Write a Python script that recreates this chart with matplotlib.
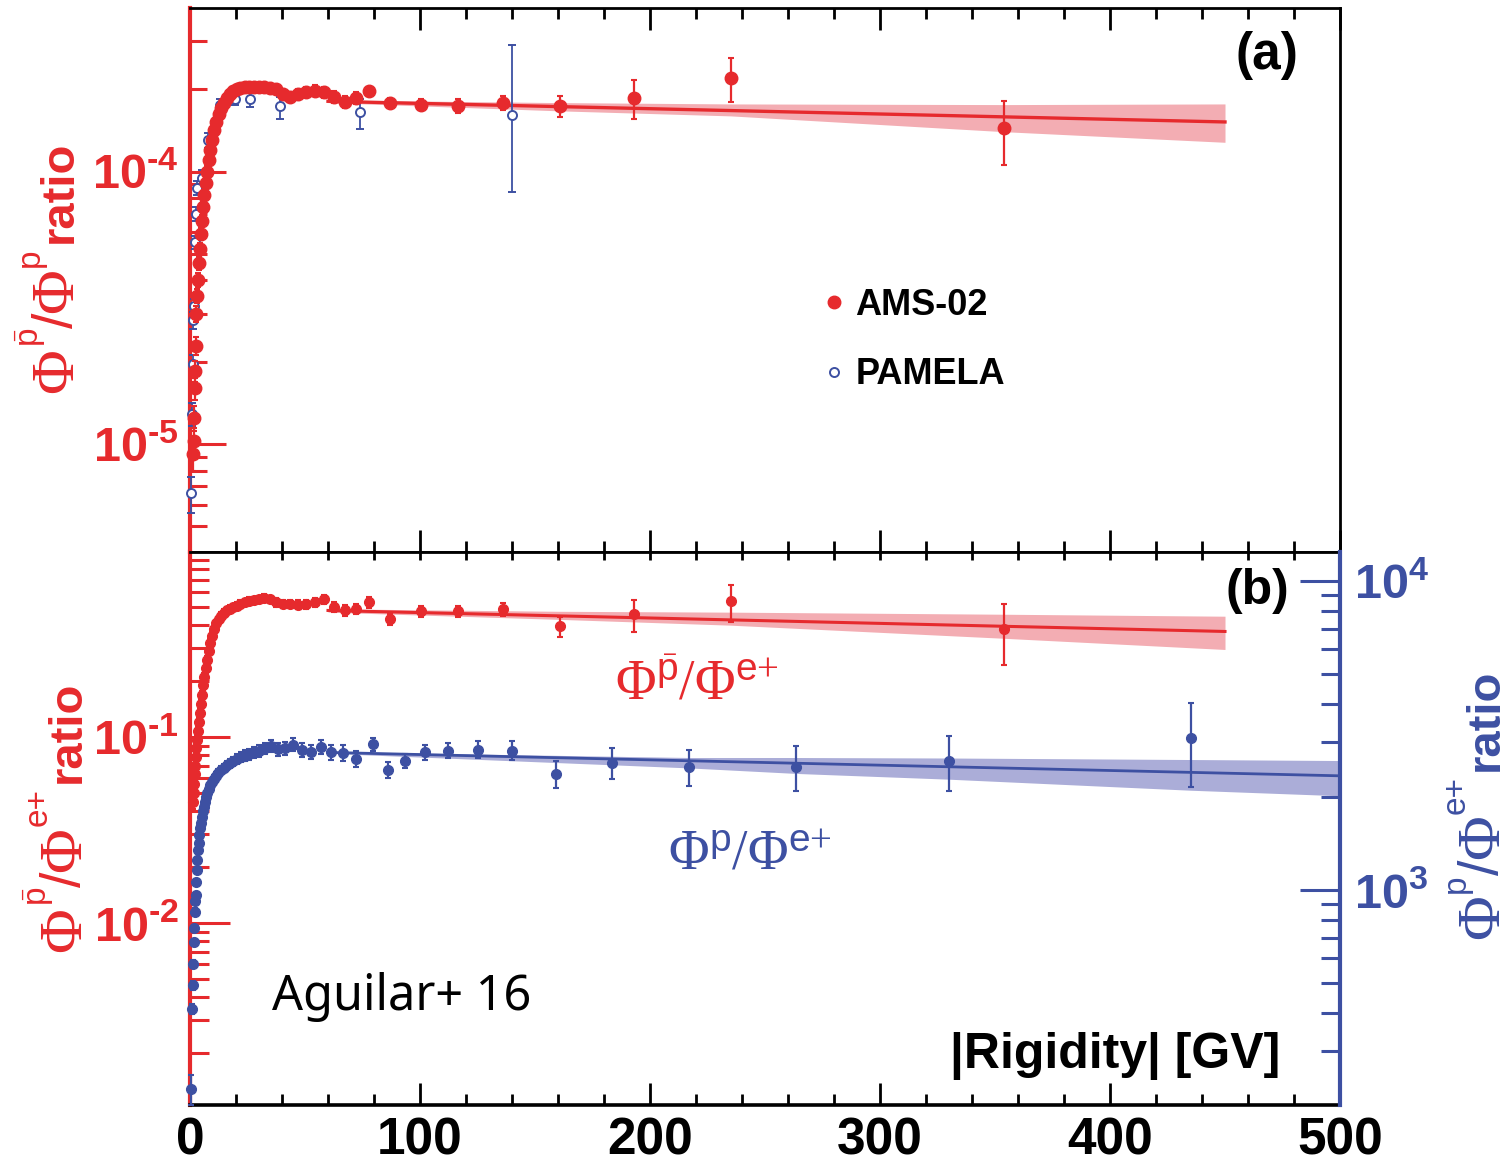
import numpy as np
import matplotlib.pyplot as plt
from matplotlib.lines import Line2D
from matplotlib.ticker import MultipleLocator, LogLocator, NullFormatter, FuncFormatter

plt.rcParams['font.family'] = ['Liberation Sans', 'DejaVu Sans']
plt.rcParams['font.weight'] = 'bold'
plt.rcParams['mathtext.fontset'] = 'custom'
plt.rcParams['mathtext.rm'] = 'Liberation Serif:normal'
plt.rcParams['mathtext.it'] = 'Liberation Serif:italic:normal'
plt.rcParams['mathtext.sf'] = 'Liberation Sans:normal'
plt.rcParams['mathtext.bf'] = 'Liberation Sans:bold'

RED = '#e62a2d'
BLUE = '#3d50a2'
RED_BAND = '#f3adb3'
BLUE_BAND = '#abadd8'

# AMS-02 antiproton rigidity bins (centres, GV)
rig_ams = [1.25, 1.61, 1.81, 2.03, 2.27, 2.53, 2.82, 3.13, 3.46, 3.83,
           4.22, 4.65, 5.12, 5.63, 6.18, 6.78, 7.42, 8.12, 8.87, 9.68,
           10.55, 11.5, 12.5, 13.55, 14.7, 15.95, 17.3, 18.75, 20.3, 21.95,
           23.75, 25.7, 27.75, 29.95, 32.3, 34.8, 37.5, 40.4, 43.5, 46.8,
           50.35, 54.15, 58.2, 62.55, 67.25, 72.3, 77.7, 86.75, 100.5, 116.5,
           136.0, 161.0, 193.0, 235.0, 354.0]

# pbar/p ratio, in units of 1e-4
pbar_p = [0.092, 0.103, 0.125, 0.16, 0.185, 0.23, 0.30, 0.35, 0.40, 0.46,
          0.52, 0.59, 0.66, 0.74, 0.82, 0.91, 1.00, 1.10, 1.20, 1.31,
          1.42, 1.52, 1.62, 1.71, 1.79, 1.86, 1.92, 1.97, 2.00, 2.02,
          2.04, 2.05, 2.05, 2.04, 2.05, 2.03, 2.00, 1.93, 1.88, 1.92,
          1.96, 1.98, 1.95, 1.88, 1.80, 1.86, 1.97, 1.79, 1.76, 1.74,
          1.79, 1.74, 1.86, 2.20, 1.44]
pbar_p_err = [0.012, 0.012, 0.013, 0.015, 0.016, 0.018, 0.02, 0.022, 0.024, 0.026,
              0.028, 0.03, 0.033, 0.036, 0.039, 0.042, 0.045, 0.048, 0.05, 0.054,
              0.057, 0.06, 0.063, 0.066, 0.068, 0.07, 0.072, 0.074, 0.075, 0.076,
              0.077, 0.078, 0.079, 0.08, 0.081, 0.082, 0.083, 0.084, 0.085, 0.087,
              0.089, 0.09, 0.092, 0.094, 0.096, 0.098, 0.07, 0.07, 0.08, 0.10,
              0.11, 0.16, 0.30, 0.40, 0.38]

# pbar/e+ ratio
pbar_pos = [0.045, 0.050, 0.056, 0.063, 0.070, 0.078, 0.087, 0.097, 0.108, 0.120,
            0.134, 0.150, 0.168, 0.190, 0.210, 0.235, 0.260, 0.290, 0.320, 0.350,
            0.380, 0.410, 0.430, 0.450, 0.465, 0.480, 0.490, 0.500, 0.510, 0.520,
            0.530, 0.540, 0.545, 0.550, 0.560, 0.550, 0.530, 0.520, 0.520, 0.515,
            0.520, 0.530, 0.550, 0.500, 0.480, 0.490, 0.530, 0.430, 0.475, 0.475,
            0.487, 0.394, 0.458, 0.538, 0.380]
pbar_pos_err = [0.004, 0.004, 0.004, 0.005, 0.005, 0.005, 0.006, 0.006, 0.007, 0.007,
                0.008, 0.009, 0.010, 0.011, 0.012, 0.013, 0.014, 0.015, 0.016, 0.017,
                0.018, 0.019, 0.020, 0.020, 0.021, 0.021, 0.022, 0.022, 0.023, 0.023,
                0.024, 0.024, 0.025, 0.025, 0.026, 0.026, 0.027, 0.027, 0.028, 0.028,
                0.029, 0.030, 0.030, 0.031, 0.032, 0.033, 0.035, 0.030, 0.030, 0.035,
                0.040, 0.050, 0.090, 0.120, 0.137]

# p/e+ ratio (positron binning)
rig_ppos = [0.65, 1.0, 1.2, 1.4, 1.6, 1.8, 2.0, 2.2, 2.4, 2.65,
            2.9, 3.2, 3.5, 3.8, 4.1, 4.45, 4.8, 5.2, 5.6, 6.0,
            6.5, 7.0, 7.6, 8.2, 8.9, 9.6, 10.4, 11.3, 12.3, 13.4,
            14.6, 15.9, 17.3, 18.8, 20.4, 22.1, 23.9, 25.8, 27.9, 30.2,
            32.7, 35.4, 38.3, 41.4, 44.8, 48.5, 52.5, 56.8, 61.5, 66.6,
            72.1, 79.6, 86.0, 93.5, 102.0, 112.0, 125.0, 140.0, 159.0, 183.5,
            217.0, 263.5, 330.0, 435.0]
p_pos = [226, 412, 490, 577, 676, 750, 850, 920, 960, 1060,
         1160, 1250, 1340, 1420, 1500, 1580, 1650, 1720, 1800, 1860,
         1930, 1990, 2060, 2120, 2180, 2240, 2290, 2340, 2390, 2440,
         2480, 2530, 2570, 2610, 2650, 2690, 2720, 2750, 2790, 2820,
         2870, 2930, 2850, 2870, 2950, 2840, 2800, 2900, 2790, 2780,
         2660, 2953, 2448, 2618, 2782, 2822, 2843, 2822, 2377, 2580,
         2504, 2504, 2618, 3088]
p_pos_err = [25, 15, 15, 16, 18, 18, 20, 22, 24, 26,
             28, 30, 32, 34, 36, 38, 40, 42, 44, 46,
             48, 50, 52, 54, 56, 58, 60, 64, 68, 72,
             76, 80, 85, 90, 95, 100, 105, 110, 115, 120,
             125, 130, 135, 140, 145, 150, 150, 155, 160, 160,
             160, 150, 140, 140, 150, 160, 180, 200, 240, 290,
             340, 410, 530, 940]

# PAMELA pbar/p, in units of 1e-4
rig_pam = [0.6, 0.9, 1.2, 1.5, 1.8, 2.2, 2.6, 3.2, 5.0, 8.0,
           13.0, 19.6, 26.0, 39.0, 74.0, 140.0]
pam_pp = [0.066, 0.129, 0.197, 0.285, 0.32, 0.55, 0.70, 0.87, 0.95, 1.30,
          1.76, 1.85, 1.85, 1.74, 1.66, 1.615]
pam_lo = [0.01, 0.012, 0.015, 0.02, 0.02, 0.03, 0.04, 0.05, 0.06, 0.08,
          0.09, 0.10, 0.12, 0.18, 0.23, 0.775]
pam_hi = [0.01, 0.012, 0.015, 0.02, 0.02, 0.03, 0.04, 0.05, 0.06, 0.08,
          0.09, 0.10, 0.12, 0.14, 0.19, 1.285]

# fits above 60 GV and their uncertainty bands
fit_rig = [60, 450]
fit_pbar_p = [1.81, 1.52]          # 1e-4
fit_pbar_pos = [0.48, 0.37]
band_rig = [60, 160, 235, 354, 450]
band_pbar_p_hi = [1.83, 1.79, 1.77, 1.76, 1.77]
band_pbar_p_lo = [1.79, 1.67, 1.60, 1.40, 1.28]
band_pbar_pos_hi = [0.49, 0.475, 0.47, 0.458, 0.447]
band_pbar_pos_lo = [0.47, 0.43, 0.40, 0.34, 0.296]

fit_rig_ppos = [60, 500]
fit_p_pos = [2784, 2338]
band_rig_ppos = [60, 217, 263.5, 330, 435, 500]
band_p_pos_hi = [2800, 2680, 2680, 2670, 2640, 2620]
band_p_pos_lo = [2765, 2480, 2380, 2280, 2100, 2015]

E4 = 1e-4
W, H = 1508, 1165


def box(x0, y0, x1, y1):
    return [x0 / W, 1 - y1 / H, (x1 - x0) / W, (y1 - y0) / H]


def fpos(x, y):
    return x / W, 1 - y / H


def pow10(v, pos):
    e = int(round(np.log10(v)))
    sign = '\u2010' if e < 0 else ''
    return r'$\mathdefault{10^{%s%d}}$' % (sign, abs(e))


fig = plt.figure(figsize=(W / 100, H / 100), dpi=100)
axa = fig.add_axes(box(190, 8, 1340, 552))
axb = fig.add_axes(box(190, 552, 1340, 1105))
axr = axb.twinx()

# ---- panel (a): pbar/p ----
axa.fill_between(band_rig, np.array(band_pbar_p_lo) * E4, np.array(band_pbar_p_hi) * E4,
                 color=RED_BAND, lw=0, zorder=1)
axa.plot(fit_rig, np.array(fit_pbar_p) * E4, color=RED, lw=2.4, zorder=2)
axa.errorbar(rig_pam, np.array(pam_pp) * E4,
             yerr=[np.array(pam_lo) * E4, np.array(pam_hi) * E4],
             fmt='o', ms=6.5, mfc='white', mec=BLUE, mew=1.4, color=BLUE,
             elinewidth=1.3, capsize=3, capthick=1.3, zorder=3, clip_on=False)
axa.errorbar(rig_ams, np.array(pbar_p) * E4, yerr=np.array(pbar_p_err) * E4,
             fmt='o', ms=9, color=RED, elinewidth=1.6, capsize=2.5, capthick=1.5,
             zorder=4, clip_on=False)
axa.set_ylim(4.02e-6, 3.98e-4)

leg = axa.legend(handles=[Line2D([], [], ls='none', marker='o', ms=9, color=RED),
                          Line2D([], [], ls='none', marker='o', ms=6.5, mfc='white',
                                 mec=BLUE, mew=1.4)],
                 labels=['AMS-02', 'PAMELA'], loc='upper left',
                 bbox_to_anchor=(0.522, 0.545), frameon=False,
                 prop={'size': 26, 'weight': 'bold'}, labelspacing=0.95,
                 handlelength=0.6, handletextpad=0.3)

# ---- panel (b): pbar/e+ (left) and p/e+ (right) ----
axb.fill_between(band_rig, band_pbar_pos_lo, band_pbar_pos_hi, color=RED_BAND, lw=0, zorder=1)
axb.plot(fit_rig, fit_pbar_pos, color=RED, lw=2.2, zorder=2)
axb.errorbar(rig_ams, pbar_pos, yerr=pbar_pos_err, fmt='o', ms=7, color=RED,
             elinewidth=1.6, capsize=2.5, capthick=1.5, zorder=4, clip_on=False)
axb.set_ylim(1.05e-3, 0.99)

axr.fill_between(band_rig_ppos, band_p_pos_lo, band_p_pos_hi, color=BLUE_BAND, lw=0, zorder=1)
axr.plot(fit_rig_ppos, fit_p_pos, color=BLUE, lw=2.0, zorder=2)
axr.errorbar(rig_ppos, p_pos, yerr=p_pos_err, fmt='o', ms=7, color=BLUE,
             elinewidth=1.6, capsize=2.5, capthick=1.5, zorder=4, clip_on=False)
axr.set_yscale('log')
axr.set_ylim(201, 12400)

for ax in (axa, axb):
    ax.set_xlim(0, 500)
    ax.xaxis.set_major_locator(MultipleLocator(100))
    ax.xaxis.set_minor_locator(MultipleLocator(20))
    ax.set_yscale('log')
    ax.yaxis.set_major_locator(LogLocator(base=10, numticks=20))
    ax.yaxis.set_minor_locator(LogLocator(base=10, subs=np.arange(2, 10), numticks=20))
    ax.yaxis.set_major_formatter(FuncFormatter(pow10))
    ax.yaxis.set_minor_formatter(NullFormatter())
    ax.tick_params(axis='x', which='major', direction='in', length=16, width=2,
                   color='black', labelsize=37, pad=8)
    ax.tick_params(axis='x', which='minor', direction='in', length=8, width=2)
    ax.tick_params(axis='y', which='major', direction='in', length=26, width=2.2,
                   color=RED, labelcolor=RED, labelsize=35, pad=8, right=False)
    ax.tick_params(axis='y', which='minor', direction='in', length=12, width=2.2,
                   color=RED, right=False)
    ax.spines['left'].set_color(RED)
    ax.spines['left'].set_linewidth(3)
    for s in ('top', 'bottom', 'right'):
        ax.spines[s].set_linewidth(2)

axa.tick_params(axis='x', which='both', top=True, bottom=True, labelbottom=False)
axb.tick_params(axis='x', which='both', top=False, bottom=True)
axb.tick_params(axis='y', which='major', length=29)
axb.tick_params(axis='y', which='minor', length=14)
axb.spines['right'].set_visible(False)
axb.spines['bottom'].set_linewidth(2.6)

sec = axb.secondary_xaxis('top')
sec.xaxis.set_major_locator(MultipleLocator(100))
sec.xaxis.set_minor_locator(MultipleLocator(20))
sec.tick_params(axis='x', which='both', direction='in', length=6, width=2, labeltop=False)

axr.yaxis.set_major_locator(LogLocator(base=10, numticks=20))
axr.yaxis.set_minor_locator(LogLocator(base=10, subs=np.arange(2, 10), numticks=20))
axr.yaxis.set_major_formatter(FuncFormatter(pow10))
axr.yaxis.set_minor_formatter(NullFormatter())
axr.tick_params(axis='y', which='major', direction='in', length=29, width=2.2,
                color=BLUE, labelcolor=BLUE, labelsize=35, pad=10)
axr.tick_params(axis='y', which='minor', direction='in', length=14, width=2.2, color=BLUE)
axr.spines['right'].set_color(BLUE)
axr.spines['right'].set_linewidth(3)
for s in ('left', 'top', 'bottom'):
    axr.spines[s].set_visible(False)

# ---- rotated axis titles, built piece by piece along the baseline ----
renderer = fig.canvas.get_renderer()
SERIF = {'family': 'Liberation Serif', 'fontweight': 'normal'}
SANS = {'family': 'Liberation Sans', 'fontweight': 'normal'}
BOLD = {'family': 'Liberation Sans', 'fontweight': 'bold'}


def vertical_title(x, y, parts, color):
    """Stack text pieces upward from pixel (x, y); x is the baseline."""
    pos = 0.0
    for s, size, rise, gap, kw in parts:
        pos += gap
        t = fig.text(*fpos(x - rise, y - pos), s, fontsize=size, color=color,
                     rotation=90, rotation_mode='anchor', ha='left',
                     va='baseline', **kw)
        pos += t.get_window_extent(renderer).height


PHI, SUP, RISE = 44, 24, 33
sup_pbar = r'$\bar{\mathsf{p}}$'

vertical_title(72, 393, [('\u03a6', PHI, 0, 0, SERIF), (sup_pbar, SUP, RISE, 1, {}),
                         ('/', 40, 0, 0, SANS), ('\u03a6', PHI, 0, 0, SERIF),
                         ('p', SUP, RISE, 1, SANS), ('ratio', 34, 0, 5, BOLD)], RED)
vertical_title(80, 952, [('\u03a6', PHI, 0, 0, SERIF), (sup_pbar, SUP, RISE, 1, {}),
                         ('/', 40, 0, 0, SANS), ('\u03a6', PHI, 0, 0, SERIF),
                         ('e+', SUP, RISE, 1, SANS), ('ratio', 34, 0, 5, BOLD)], RED)
vertical_title(1498, 939, [('\u03a6', PHI, 0, 0, SERIF), ('p', SUP, RISE, 1, SANS),
                           ('/', 40, 0, 0, SANS), ('\u03a6', PHI, 0, 0, SERIF),
                           ('e+', SUP, RISE, 1, SANS), ('ratio', 34, 0, 5, BOLD)], BLUE)

# ---- curve labels and annotations ----
lab_pbar_pos = r'$\Phi^{\bar{\mathsf{p}}}/\Phi^{\mathsf{e}{+}}$'
lab_p_pos = r'$\Phi^{\mathsf{p}}/\Phi^{\mathsf{e}{+}}$'
fig.text(*fpos(615, 700), lab_pbar_pos, color=RED, fontsize=40, ha='left', va='baseline')
fig.text(*fpos(668, 870), lab_p_pos, color=BLUE, fontsize=40, ha='left', va='baseline')

fig.text(*fpos(1235, 69), '(a)', fontsize=37, fontweight='bold', ha='left', va='baseline')
fig.text(*fpos(1225, 604), '(b)', fontsize=36, fontweight='bold', ha='left', va='baseline')
fig.text(*fpos(1280, 1068), '|Rigidity| [GV]', fontsize=36, fontweight='bold',
         ha='right', va='baseline')
fig.text(*fpos(272, 1010), 'Aguilar+ 16', fontsize=35, fontweight='normal',
         family='Noto Sans', ha='left', va='baseline')

fig.savefig('out.png', dpi=100)
